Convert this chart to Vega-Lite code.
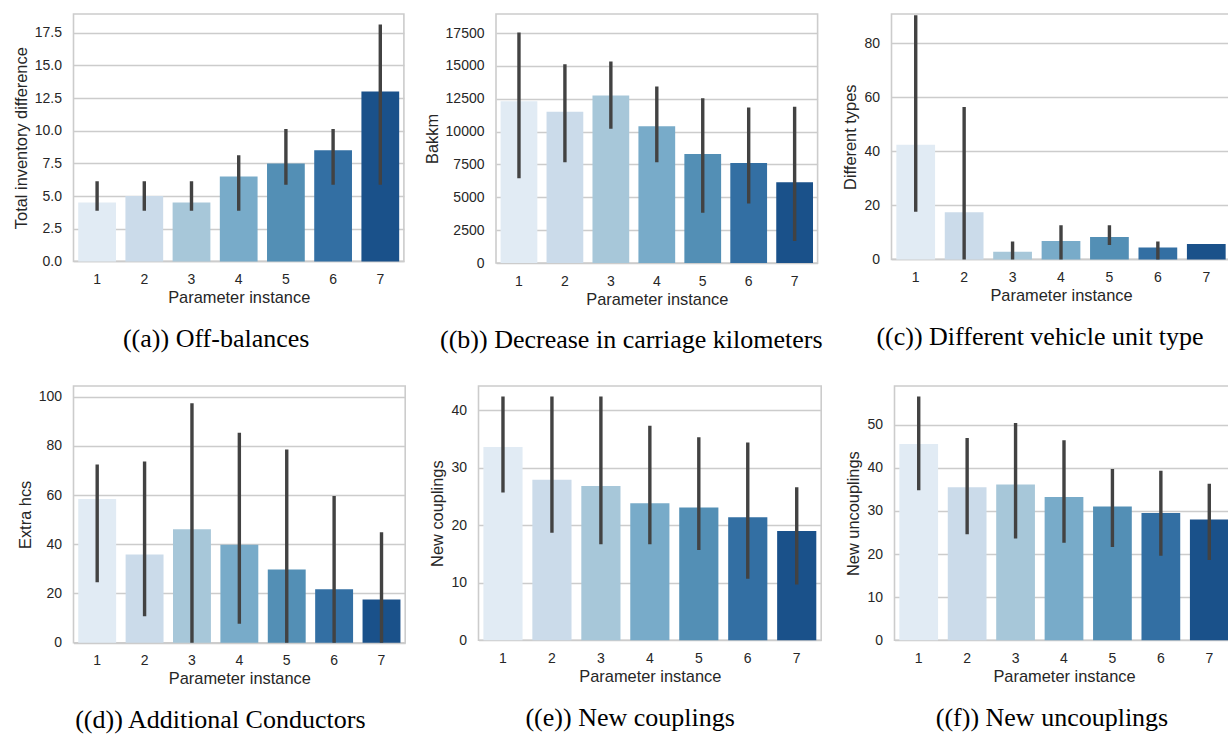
{
  "$schema": "https://vega.github.io/schema/vega-lite/v6.json",
  "padding": {"left": 11.5, "top": 13, "right": 0, "bottom": 0},
  "background": "white",
  "data": {"values": [
    {"panel": "a", "inst": 1, "mean": 4.5, "lo": 4, "hi": 6},
    {"panel": "a", "inst": 2, "mean": 5.0, "lo": 4, "hi": 6},
    {"panel": "a", "inst": 3, "mean": 4.5, "lo": 4, "hi": 6},
    {"panel": "a", "inst": 4, "mean": 6.5, "lo": 4, "hi": 8},
    {"panel": "a", "inst": 5, "mean": 7.5, "lo": 6, "hi": 10},
    {"panel": "a", "inst": 6, "mean": 8.5, "lo": 6, "hi": 10},
    {"panel": "a", "inst": 7, "mean": 13.0, "lo": 6, "hi": 18},
    {"panel": "b", "inst": 1, "mean": 12300, "lo": 6570, "hi": 17400},
    {"panel": "b", "inst": 2, "mean": 11500, "lo": 7800, "hi": 15000},
    {"panel": "b", "inst": 3, "mean": 12750, "lo": 10350, "hi": 15200},
    {"panel": "b", "inst": 4, "mean": 10400, "lo": 7800, "hi": 13300},
    {"panel": "b", "inst": 5, "mean": 8300, "lo": 3950, "hi": 12400},
    {"panel": "b", "inst": 6, "mean": 7600, "lo": 4650, "hi": 11700},
    {"panel": "b", "inst": 7, "mean": 6150, "lo": 1800, "hi": 11750},
    {"panel": "c", "inst": 1, "mean": 42.5, "lo": 18.3, "hi": 89.8},
    {"panel": "c", "inst": 2, "mean": 17.5, "lo": 0, "hi": 55.8},
    {"panel": "c", "inst": 3, "mean": 2.8, "lo": 0, "hi": 6},
    {"panel": "c", "inst": 4, "mean": 6.8, "lo": 0, "hi": 12},
    {"panel": "c", "inst": 5, "mean": 8.3, "lo": 6, "hi": 12},
    {"panel": "c", "inst": 6, "mean": 4.4, "lo": 0, "hi": 6},
    {"panel": "c", "inst": 7, "mean": 5.7, "lo": null, "hi": null},
    {"panel": "d", "inst": 1, "mean": 58.4, "lo": 25.3, "hi": 71.7},
    {"panel": "d", "inst": 2, "mean": 35.8, "lo": 11.4, "hi": 72.9},
    {"panel": "d", "inst": 3, "mean": 46.1, "lo": 0, "hi": 96.6},
    {"panel": "d", "inst": 4, "mean": 39.8, "lo": 8.4, "hi": 84.6},
    {"panel": "d", "inst": 5, "mean": 29.7, "lo": 0, "hi": 77.8},
    {"panel": "d", "inst": 6, "mean": 21.7, "lo": 0, "hi": 58.9},
    {"panel": "d", "inst": 7, "mean": 17.6, "lo": 0, "hi": 44.2},
    {"panel": "e", "inst": 1, "mean": 33.6, "lo": 26, "hi": 42.1},
    {"panel": "e", "inst": 2, "mean": 27.9, "lo": 19, "hi": 42.1},
    {"panel": "e", "inst": 3, "mean": 26.8, "lo": 17, "hi": 42.1},
    {"panel": "e", "inst": 4, "mean": 23.8, "lo": 17, "hi": 37},
    {"panel": "e", "inst": 5, "mean": 23.1, "lo": 16, "hi": 35},
    {"panel": "e", "inst": 6, "mean": 21.4, "lo": 11, "hi": 34.1},
    {"panel": "e", "inst": 7, "mean": 19.0, "lo": 10, "hi": 26.3},
    {"panel": "f", "inst": 1, "mean": 45.5, "lo": 35.2, "hi": 56.1},
    {"panel": "f", "inst": 2, "mean": 35.5, "lo": 25, "hi": 46.5},
    {"panel": "f", "inst": 3, "mean": 36.1, "lo": 24, "hi": 50},
    {"panel": "f", "inst": 4, "mean": 33.2, "lo": 23, "hi": 46},
    {"panel": "f", "inst": 5, "mean": 31.0, "lo": 22, "hi": 39.3},
    {"panel": "f", "inst": 6, "mean": 29.5, "lo": 20, "hi": 38.9},
    {"panel": "f", "inst": 7, "mean": 28.0, "lo": 19, "hi": 35.9}
  ]},
  "vconcat": [
    {
      "spacing": 17.5,
      "hconcat": [
        {
          "width": 330.4, "height": 247.4,
          "title": {"text": "((a)) Off-balances", "dx": -22.5},
          "transform": [{"filter": "datum.panel === 'a'"}],
          "encoding": {"x": {"field": "inst", "type": "ordinal", "title": "Parameter instance", "scale": {"paddingInner": 0.2, "paddingOuter": 0.1}}},
          "layer": [
            {"mark": "bar", "encoding": {
              "y": {"field": "mean", "type": "quantitative", "title": "Total inventory difference", "scale": {"domain": [0, 18.93], "nice": false, "zero": true}, "axis": {"values": [0, 2.5, 5, 7.5, 10, 12.5, 15, 17.5], "format": ".1f", "labelOverlap": false}},
              "color": {"field": "inst", "type": "ordinal", "legend": null, "scale": {"domain": [1, 2, 3, 4, 5, 6, 7], "range": ["#e1ebf4", "#cbdbea", "#a7c7d9", "#78abc9", "#538fb5", "#336fa3", "#1a518a"]}}}},
            {"mark": {"type": "rule", "color": "#424242", "strokeWidth": 3.4, "strokeCap": "square", "clip": true},
             "transform": [{"filter": "datum.lo != null"}],
             "encoding": {"y": {"field": "lo", "type": "quantitative", "title": "Total inventory difference", "axis": {"values": [0, 2.5, 5, 7.5, 10, 12.5, 15, 17.5], "format": ".1f", "labelOverlap": false}}, "y2": {"field": "hi"}}}
          ]
        },
        {
          "width": 321.6, "height": 249,
          "title": {"text": "((b)) Decrease in carriage kilometers", "dx": -25.5},
          "transform": [{"filter": "datum.panel === 'b'"}],
          "encoding": {"x": {"field": "inst", "type": "ordinal", "title": "Parameter instance", "scale": {"paddingInner": 0.2, "paddingOuter": 0.1}}},
          "layer": [
            {"mark": "bar", "encoding": {
              "y": {"field": "mean", "type": "quantitative", "title": "Bakkm", "scale": {"domain": [0, 18946], "nice": false, "zero": true}, "axis": {"values": [0, 2500, 5000, 7500, 10000, 12500, 15000, 17500], "format": "d", "labelOverlap": false}},
              "color": {"field": "inst", "type": "ordinal", "legend": null, "scale": {"domain": [1, 2, 3, 4, 5, 6, 7], "range": ["#e1ebf4", "#cbdbea", "#a7c7d9", "#78abc9", "#538fb5", "#336fa3", "#1a518a"]}}}},
            {"mark": {"type": "rule", "color": "#424242", "strokeWidth": 3.4, "strokeCap": "square", "clip": true},
             "transform": [{"filter": "datum.lo != null"}],
             "encoding": {"y": {"field": "lo", "type": "quantitative", "title": "Bakkm", "axis": {"values": [0, 2500, 5000, 7500, 10000, 12500, 15000, 17500], "format": "d", "labelOverlap": false}}, "y2": {"field": "hi"}}}
          ]
        },
        {
          "width": 339, "height": 245.4,
          "title": {"text": "((c)) Different vehicle unit type", "dx": -21},
          "transform": [{"filter": "datum.panel === 'c'"}],
          "encoding": {"x": {"field": "inst", "type": "ordinal", "title": "Parameter instance", "scale": {"paddingInner": 0.2, "paddingOuter": 0.1}}},
          "layer": [
            {"mark": "bar", "encoding": {
              "y": {"field": "mean", "type": "quantitative", "title": "Different types", "scale": {"domain": [0, 90.9], "nice": false, "zero": true}, "axis": {"values": [0, 20, 40, 60, 80], "format": "d"}},
              "color": {"field": "inst", "type": "ordinal", "legend": null, "scale": {"domain": [1, 2, 3, 4, 5, 6, 7], "range": ["#e1ebf4", "#cbdbea", "#a7c7d9", "#78abc9", "#538fb5", "#336fa3", "#1a518a"]}}}},
            {"mark": {"type": "rule", "color": "#424242", "strokeWidth": 3.4, "strokeCap": "square", "clip": true},
             "transform": [{"filter": "datum.lo != null"}],
             "encoding": {"y": {"field": "lo", "type": "quantitative", "title": "Different types", "axis": {"values": [0, 20, 40, 60, 80], "format": "d"}}, "y2": {"field": "hi"}}}
          ]
        }
      ]
    },
    {
      "spacing": 22,
      "hconcat": [
        {
          "width": 331.7, "height": 256.7,
          "title": {"text": "((d)) Additional Conductors", "dx": -19},
          "transform": [{"filter": "datum.panel === 'd'"}],
          "encoding": {"x": {"field": "inst", "type": "ordinal", "title": "Parameter instance", "scale": {"paddingInner": 0.2, "paddingOuter": 0.1}}},
          "layer": [
            {"mark": "bar", "encoding": {
              "y": {"field": "mean", "type": "quantitative", "title": "Extra hcs", "scale": {"domain": [0, 104.3], "nice": false, "zero": true}, "axis": {"values": [0, 20, 40, 60, 80, 100], "format": "d"}},
              "color": {"field": "inst", "type": "ordinal", "legend": null, "scale": {"domain": [1, 2, 3, 4, 5, 6, 7], "range": ["#e1ebf4", "#cbdbea", "#a7c7d9", "#78abc9", "#538fb5", "#336fa3", "#1a518a"]}}}},
            {"mark": {"type": "rule", "color": "#424242", "strokeWidth": 3.4, "strokeCap": "square", "clip": true},
             "transform": [{"filter": "datum.lo != null"}],
             "encoding": {"y": {"field": "lo", "type": "quantitative", "title": "Extra hcs", "axis": {"values": [0, 20, 40, 60, 80, 100], "format": "d"}}, "y2": {"field": "hi"}}}
          ]
        },
        {
          "width": 342.7, "height": 254.3,
          "title": {"text": "((e)) New couplings", "dx": -19.7},
          "transform": [{"filter": "datum.panel === 'e'"}],
          "encoding": {"x": {"field": "inst", "type": "ordinal", "title": "Parameter instance", "scale": {"paddingInner": 0.2, "paddingOuter": 0.1}}},
          "layer": [
            {"mark": "bar", "encoding": {
              "y": {"field": "mean", "type": "quantitative", "title": "New couplings", "scale": {"domain": [0, 44.2], "nice": false, "zero": true}, "axis": {"values": [0, 10, 20, 30, 40], "format": "d"}},
              "color": {"field": "inst", "type": "ordinal", "legend": null, "scale": {"domain": [1, 2, 3, 4, 5, 6, 7], "range": ["#e1ebf4", "#cbdbea", "#a7c7d9", "#78abc9", "#538fb5", "#336fa3", "#1a518a"]}}}},
            {"mark": {"type": "rule", "color": "#424242", "strokeWidth": 3.4, "strokeCap": "square", "clip": true},
             "transform": [{"filter": "datum.lo != null"}],
             "encoding": {"y": {"field": "lo", "type": "quantitative", "title": "New couplings", "axis": {"values": [0, 10, 20, 30, 40], "format": "d"}}, "y2": {"field": "hi"}}}
          ]
        },
        {
          "width": 339, "height": 254.3,
          "title": {"text": "((f)) New uncouplings", "dx": -12},
          "transform": [{"filter": "datum.panel === 'f'"}],
          "encoding": {"x": {"field": "inst", "type": "ordinal", "title": "Parameter instance", "scale": {"paddingInner": 0.2, "paddingOuter": 0.1}}},
          "layer": [
            {"mark": "bar", "encoding": {
              "y": {"field": "mean", "type": "quantitative", "title": "New uncouplings", "scale": {"domain": [0, 58.95], "nice": false, "zero": true}, "axis": {"values": [0, 10, 20, 30, 40, 50], "format": "d"}},
              "color": {"field": "inst", "type": "ordinal", "legend": null, "scale": {"domain": [1, 2, 3, 4, 5, 6, 7], "range": ["#e1ebf4", "#cbdbea", "#a7c7d9", "#78abc9", "#538fb5", "#336fa3", "#1a518a"]}}}},
            {"mark": {"type": "rule", "color": "#424242", "strokeWidth": 3.4, "strokeCap": "square", "clip": true},
             "transform": [{"filter": "datum.lo != null"}],
             "encoding": {"y": {"field": "lo", "type": "quantitative", "title": "New uncouplings", "axis": {"values": [0, 10, 20, 30, 40, 50], "format": "d"}}, "y2": {"field": "hi"}}}
          ]
        }
      ]
    }
  ],
  "spacing": 30,
  "resolve": {"scale": {"y": "independent"}},
  "config": {
    "view": {"stroke": "#cccccc", "strokeWidth": 1.6},
    "title": {"orient": "bottom", "anchor": "middle", "frame": "group", "offset": 20, "font": "Liberation Serif", "fontSize": 26, "fontWeight": "normal", "color": "#000000"},
    "axis": {"domain": false, "ticks": false, "tickSize": 0, "labelOverlap": false, "labelFont": "Liberation Sans", "labelFontSize": 14, "labelColor": "#262626", "titleFont": "Liberation Sans", "titleFontSize": 16.4, "titleFontWeight": "normal", "titleColor": "#262626", "gridColor": "#cccccc", "gridWidth": 1.3},
    "axisX": {"grid": false, "labelAngle": 0, "labelPadding": 11, "titlePadding": 3},
    "axisY": {"grid": true, "labelPadding": 12, "titlePadding": 5},
    "bar": {"stroke": null}
  }
}
